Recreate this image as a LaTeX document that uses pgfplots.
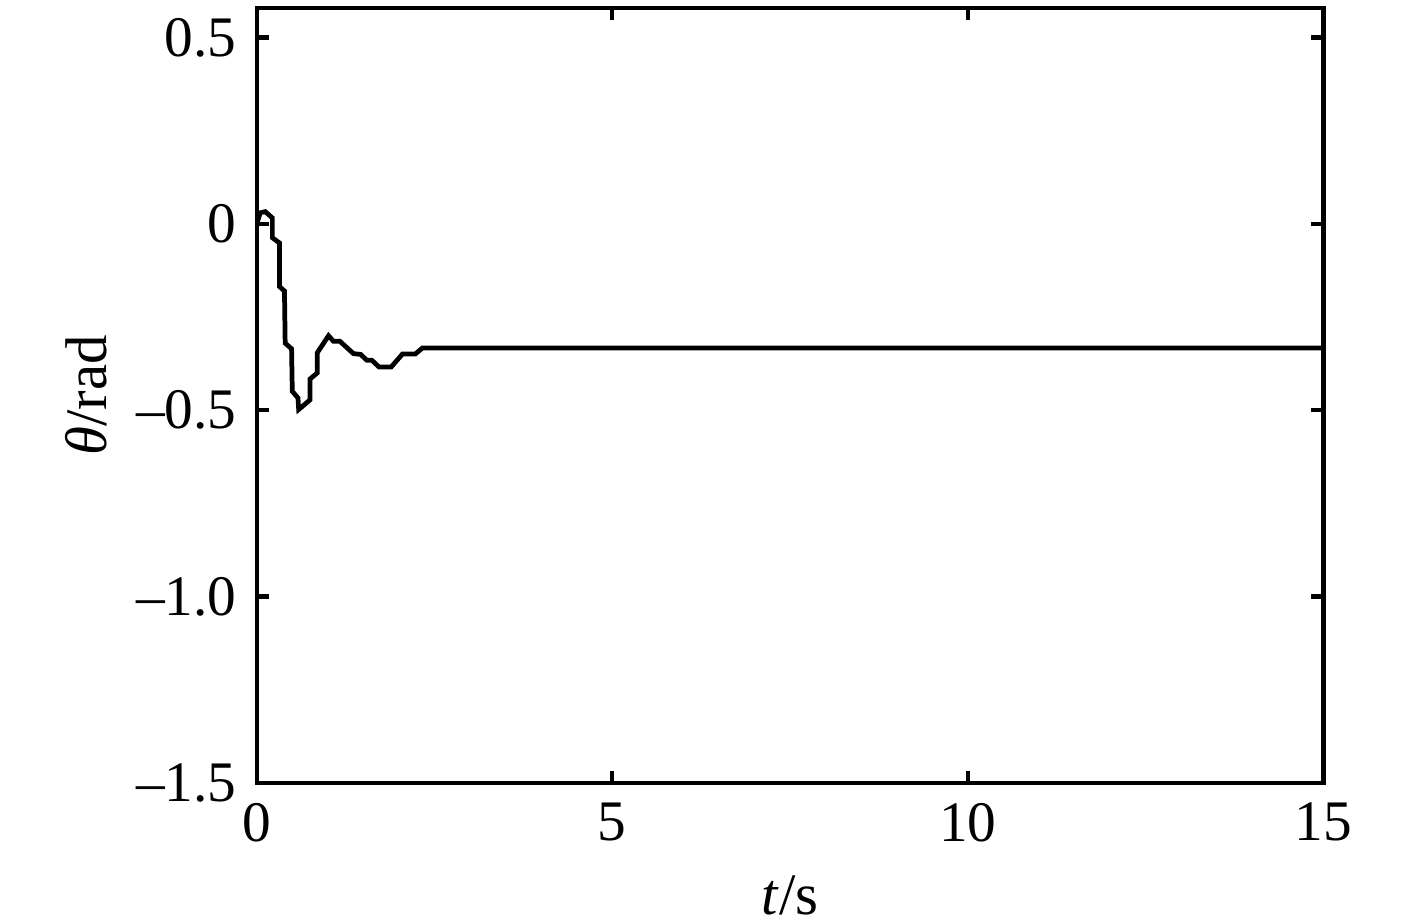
\documentclass[border=0pt]{standalone}
\usepackage{fontspec}
\setmainfont{Liberation Serif}
\usepackage{pgfplots}
\pgfplotsset{compat=1.18}

\begin{document}
\fontsize{11.5}{13.8}\selectfont
\begin{tikzpicture}
  \useasboundingbox (-1.81cm,-0.973cm) rectangle (8.18cm,5.52cm);
  \begin{axis}[
      at={(0,0)}, anchor=south west,
      scale only axis, width=7.52cm, height=5.465cm,
      xmin=0, xmax=15, ymin=-1.5, ymax=0.58,
      axis line style={line width=0.85pt},
      tick style={line width=0.85pt, black},
      tick align=inside, major tick length=2.4pt,
      xtick={0,5,10,15},
      ytick={-1.5,-1,-0.5,0,0.5},
      yticklabels={\textendash1.5,\textendash1.0,\textendash0.5,0,0.5},
      /pgf/number format/assume math mode=true,
      tick label style={font=\fontsize{11.5}{13.8}\selectfont},
      label style={font=\fontsize{11.8}{14}\selectfont},
      xlabel={\textit{t}/s}, ylabel={\textit{θ}/rad},
      xlabel style={yshift=1pt},
      ylabel style={yshift=-2pt},
    ]
    \addplot[black, line width=0.95pt] coordinates {
      (0,0) (0.05,0.03) (0.12,0.033) (0.22,0.016) (0.22,-0.037)
      (0.32,-0.051) (0.32,-0.168) (0.39,-0.18) (0.40,-0.32)
      (0.49,-0.335) (0.50,-0.449) (0.58,-0.467) (0.59,-0.498)
      (0.75,-0.472) (0.75,-0.416) (0.85,-0.40) (0.85,-0.346)
      (1.01,-0.30) (1.08,-0.315) (1.17,-0.315) (1.36,-0.348)
      (1.46,-0.35) (1.55,-0.366) (1.62,-0.366) (1.72,-0.384)
      (1.89,-0.384) (2.05,-0.349) (2.23,-0.349) (2.33,-0.333)
      (15,-0.333)
    };
  \end{axis}
\end{tikzpicture}
\end{document}
